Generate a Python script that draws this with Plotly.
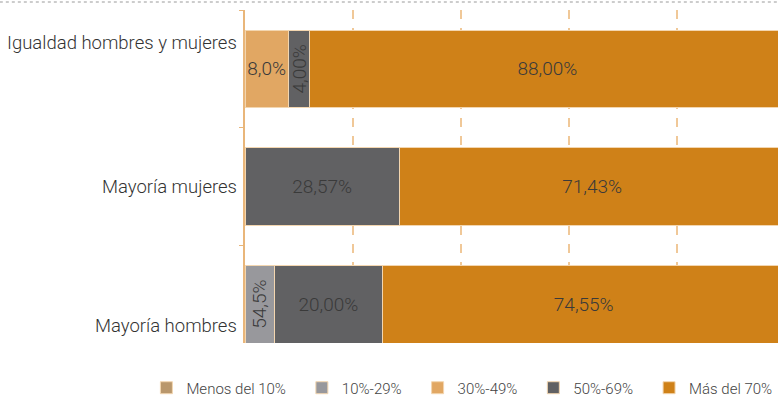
import plotly.graph_objects as go

categories = ["Igualdad hombres y mujeres", "Mayoría mujeres", "Mayoría hombres"]

menos_10 = [None, None, None]
de_10_29 = [None, None, 5.45]
de_30_49 = [8.0, None, None]
de_50_69 = [4.0, 28.57, 20.0]
mas_70 = [88.0, 71.43, 74.55]

labels_menos_10 = ["", "", ""]
labels_10_29 = ["", "", "54,5%"]
labels_30_49 = ["8,0%", "", ""]
labels_50_69 = ["4,00%", "28,57%", "20,00%"]
labels_70 = ["88,00%", "71,43%", "74,55%"]

series = [
    ("Menos del 10%", menos_10, labels_menos_10, "#b9976c"),
    ("10%-29%", de_10_29, labels_10_29, "#98989c"),
    ("30%-49%", de_30_49, labels_30_49, "#e1a763"),
    ("50%-69%", de_50_69, labels_50_69, "#616163"),
    ("Más del 70%", mas_70, labels_70, "#cf8118"),
]

FONT = "Roboto, Liberation Sans, Arial, sans-serif"
TXT = dict(size=19, color="#3a3a3a", family=FONT, weight=300)
PAD = "\u00a0" * 3  # extra room between legend entries

fig = go.Figure()
for i, (name, vals, txt, col) in enumerate(series):
    # narrow segments get their label turned upright (reads bottom to top)
    flat = [v if (v is not None and v >= 6) else None for v in vals]
    tall = [v if (v is not None and v < 6) else None for v in vals]
    shown = name + PAD if i < len(series) - 1 else name
    fig.add_trace(go.Bar(
        y=categories, x=flat, name=shown, orientation="h", legendgroup=name,
        text=txt, textposition="inside", insidetextanchor="middle",
        textangle=0, insidetextfont=TXT,
        marker=dict(color=col, line=dict(color="#f3d6b0", width=1)),
        width=0.66,
    ))
    if any(v is not None for v in tall):
        fig.add_trace(go.Bar(
            y=categories, x=tall, name=name, orientation="h", legendgroup=name,
            showlegend=False,
            text=txt, textposition="inside", insidetextanchor="middle",
            textangle=-90, insidetextfont=TXT,
            marker=dict(color=col, line=dict(color="#f3d6b0", width=1)),
            width=0.66,
        ))

# category labels sit a little off-centre in the original
label_shift = [26, 0, -22]
for cat, dy in zip(categories, label_shift):
    fig.add_annotation(
        text=cat, x=0, xref="paper", y=cat, yref="y", xanchor="right",
        xshift=-6, yshift=dy, showarrow=False,
        font=dict(size=18.5, color="#333333", family=FONT, weight=300),
    )

fig.update_layout(
    barmode="stack",
    width=778, height=399,
    margin=dict(l=245, r=0, t=10, b=56, autoexpand=False),
    plot_bgcolor="white", paper_bgcolor="white",
    font=dict(family=FONT, color="#333333"),
    uniformtext=dict(minsize=19, mode="show"),
    legend=dict(
        orientation="h", x=-0.185, xanchor="left", y=-0.135, yanchor="middle",
        font=dict(size=15, color="#444444", family=FONT, weight=300),
        traceorder="normal", itemwidth=30, tracegroupgap=0,
    ),
    xaxis=dict(
        range=[0, 98.7], tickvals=[20, 40, 60, 80], showticklabels=False,
        showgrid=True, gridcolor="#f0c898", griddash="dash", gridwidth=1.5,
        zeroline=False, showline=False, fixedrange=True,
    ),
    yaxis=dict(
        categoryorder="array", categoryarray=categories,
        range=[2.33, -0.5], autorange=False, automargin=False,
        showline=True, linecolor="#e9b67a", linewidth=2,
        ticks="outside", tickson="boundaries", ticklen=4, tickcolor="#e9b67a",
        showticklabels=False, showgrid=False, zeroline=False,
    ),
    showlegend=True,
)

fig.add_shape(type="line", xref="paper", yref="paper", x0=-0.46, x1=1.0,
              y0=1.024, y1=1.024, line=dict(color="#9a9a9a", width=1, dash="dot"))

# the page's default body margin would shift the 778x399 figure by 8px
fig.write_html("out.html", config={"displayModeBar": False},
               post_script="document.body.style.margin='0';")
